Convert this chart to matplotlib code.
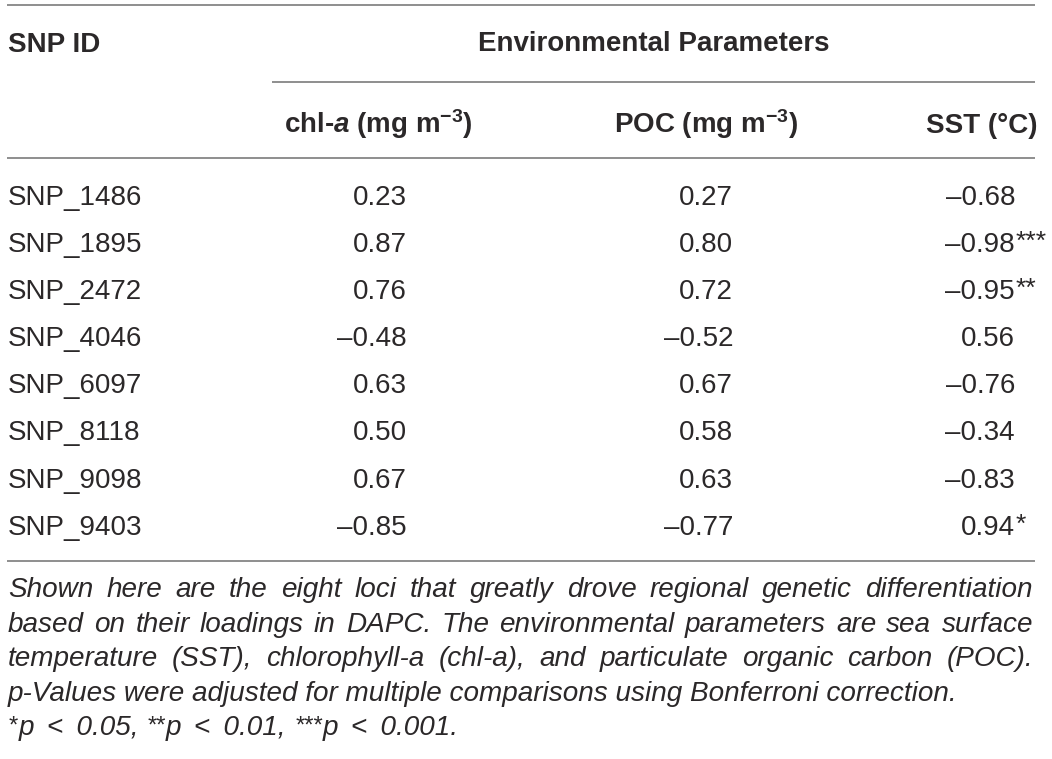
import matplotlib
matplotlib.use("Agg")
import matplotlib.pyplot as plt

# ---------------- data ----------------
snp_ids = ["SNP_1486", "SNP_1895", "SNP_2472", "SNP_4046",
           "SNP_6097", "SNP_8118", "SNP_9098", "SNP_9403"]
chla = [0.23, 0.87, 0.76, -0.48, 0.63, 0.50, 0.67, -0.85]
poc = [0.27, 0.80, 0.72, -0.52, 0.67, 0.58, 0.63, -0.77]
sst = [-0.68, -0.98, -0.95, 0.56, -0.76, -0.34, -0.83, 0.94]
sst_sig = ["", "***", "**", "", "", "", "", "*"]

id_header = "SNP ID"
group_header = "Environmental Parameters"
col_headers = [r"chl-$\mathit{a}$ (mg m$^{-3}$)",
               r"POC (mg m$^{-3}$)",
               "SST (°C)"]

foot_lines = [
    "Shown here are the eight loci that greatly drove regional genetic differentiation",
    "based on their loadings in DAPC. The environmental parameters are sea surface",
    "temperature (SST), chlorophyll-a (chl-a), and particulate organic carbon (POC).",
    "p-Values were adjusted for multiple comparisons using Bonferroni correction.",
]
foot_justify = [True, True, True, False]
sig_note = [("*", "p < 0.05, "), ("**", "p < 0.01, "), ("***", "p < 0.001.")]

# ---------------- style ----------------
plt.rcParams["font.family"] = ["Liberation Sans", "DejaVu Sans"]
plt.rcParams["mathtext.fontset"] = "custom"
plt.rcParams["mathtext.rm"] = "Liberation Sans:bold"
plt.rcParams["mathtext.bf"] = "Liberation Sans:bold"
plt.rcParams["mathtext.it"] = "Liberation Sans:italic:bold"

TXT = "#2b2829"
LINE = "#8e8e8e"
W, H = 1052, 759

fig = plt.figure(figsize=(W / 100, H / 100), dpi=100)
ax = fig.add_axes([0, 0, 1, 1])
ax.set_xlim(0, W)
ax.set_ylim(H, 0)
ax.axis("off")
renderer = fig.canvas.get_renderer()


def width(t):
    return t.get_window_extent(renderer=renderer).width


def fmt(v):
    s = f"{v:.2f}"
    return s.replace("-", "\u2013")


# rules
L, R = 7, 1035
ax.hlines([5, 158, 561], L, R, color=LINE, lw=1.4)
ax.hlines(82, 272, R, color=LINE, lw=1.4)

# header
ax.text(8, 52, id_header, fontsize=20, fontweight="bold", color=TXT,
        ha="left", va="baseline")
ax.text((272 + R) / 2, 51, group_header, fontsize=20, fontweight="bold",
        color=TXT, ha="center", va="baseline")
hdr_right = [473, 798, 1037]
for h, xr in zip(col_headers, hdr_right):
    ax.text(xr, 133, h, fontsize=20, fontweight="bold", color=TXT,
            ha="right", va="baseline")

# body
val_right = [407, 733, 1015]
y0, dy = 205, 47.1
for i, sid in enumerate(snp_ids):
    y = y0 + i * dy
    ax.text(8, y, sid, fontsize=20, color=TXT, ha="left", va="baseline")
    for col, xr in zip([chla, poc, sst], val_right):
        ax.text(xr, y, fmt(col[i]), fontsize=20, color=TXT,
                ha="right", va="baseline")
    if sst_sig[i]:
        ax.text(val_right[2] + 1, y - 3, sst_sig[i], fontsize=19, color=TXT,
                ha="left", va="baseline")

# footnote
fx0, fx1 = 8, 1033
probe = ax.text(0, 0, foot_lines[3], fontsize=19, style="italic")
fs = 19 * 950 / width(probe)
probe.remove()

fy0, fdy = 597, 34.6
for k, (line, just) in enumerate(zip(foot_lines, foot_justify)):
    y = fy0 + k * fdy
    if not just:
        ax.text(fx0, y, line, fontsize=fs, style="italic", color=TXT,
                ha="left", va="baseline")
        continue
    words = line.split()
    objs = [ax.text(0, y, w_, fontsize=fs, style="italic", color=TXT,
                    ha="left", va="baseline") for w_ in words]
    ws = [width(o) for o in objs]
    gap = (fx1 - fx0 - sum(ws)) / (len(words) - 1)
    x = fx0
    for o, w_ in zip(objs, ws):
        o.set_x(x)
        x += w_ + gap

# significance note (last line)
bar = ax.text(0, 0, "|", fontsize=fs, style="italic")
bar_w = width(bar)
bar.remove()
y = fy0 + 4 * fdy
x = fx0
for stars, txt in sig_note:
    s = ax.text(x, y - 3, stars, fontsize=fs * 0.85, style="italic",
                color=TXT, ha="left", va="baseline")
    x += width(s) + 1
    t = txt.replace(" < ", " \u2009<\u2009 ")
    p = ax.text(0, 0, t + "|", fontsize=fs, style="italic")
    adv = width(p) - bar_w
    p.remove()
    ax.text(x, y, t, fontsize=fs, style="italic",
            color=TXT, ha="left", va="baseline")
    x += adv

fig.savefig("out.png", dpi=100)
